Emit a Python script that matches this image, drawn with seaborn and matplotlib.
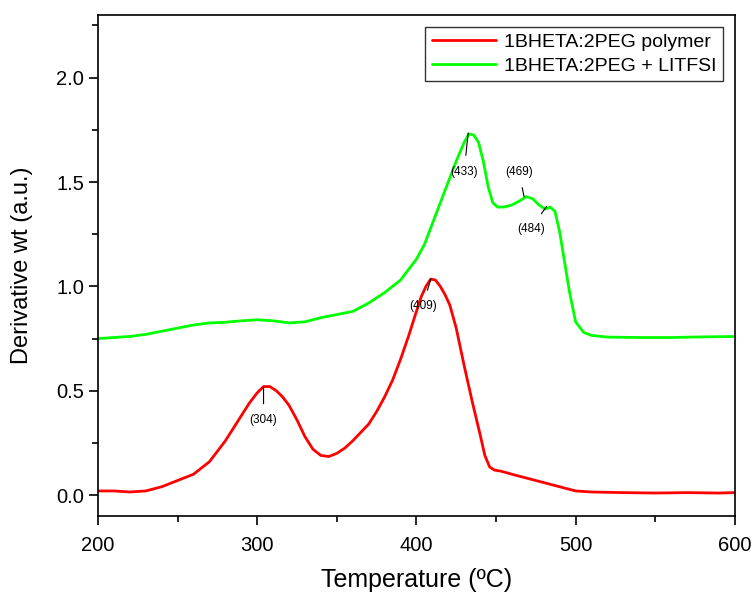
import numpy as np
import pandas as pd
import matplotlib
matplotlib.use("Agg")
import matplotlib.pyplot as plt
from matplotlib.ticker import MultipleLocator, FormatStrFormatter
import seaborn as sns

# DTG curves
temp_polymer = [200, 210, 220, 230, 240, 250, 260, 270, 280, 290, 295, 300, 304, 308, 312,
                316, 320, 325, 330, 335, 340, 345, 350, 355, 360, 365, 370, 375, 380, 385,
                390, 395, 400, 403, 406, 409, 412, 415, 418, 421, 425, 430, 435, 440, 443,
                446, 449, 453, 460, 470, 480, 490, 500, 510, 530, 550, 570, 590, 600]
dtg_polymer = [0.02, 0.02, 0.015, 0.02, 0.04, 0.07, 0.10, 0.16, 0.26, 0.38, 0.44, 0.49, 0.52, 0.52, 0.50,
               0.47, 0.43, 0.36, 0.28, 0.22, 0.19, 0.185, 0.20, 0.225, 0.26, 0.30, 0.34, 0.40, 0.47, 0.55,
               0.65, 0.76, 0.88, 0.95, 1.00, 1.035, 1.03, 1.00, 0.96, 0.91, 0.80, 0.62, 0.45, 0.29, 0.19,
               0.135, 0.12, 0.115, 0.10, 0.08, 0.06, 0.04, 0.02, 0.015, 0.012, 0.01, 0.012, 0.01, 0.012]

temp_litfsi = [200, 210, 220, 230, 240, 250, 260, 270, 280, 290, 300, 310, 320, 330, 340,
               350, 360, 370, 380, 390, 395, 400, 405, 410, 415, 420, 425, 430, 433, 436,
               439, 442, 445, 448, 451, 455, 460, 465, 469, 473, 477, 481, 484, 487, 490,
               493, 496, 500, 505, 510, 520, 540, 560, 580, 600]
dtg_litfsi = [0.75, 0.755, 0.76, 0.77, 0.785, 0.80, 0.815, 0.825, 0.828, 0.835, 0.84, 0.835, 0.825, 0.83, 0.85,
              0.865, 0.88, 0.92, 0.97, 1.03, 1.08, 1.13, 1.20, 1.30, 1.40, 1.50, 1.60, 1.69, 1.73, 1.725,
              1.69, 1.60, 1.48, 1.40, 1.38, 1.38, 1.39, 1.41, 1.43, 1.42, 1.39, 1.37, 1.38, 1.36, 1.26,
              1.12, 0.98, 0.83, 0.78, 0.765, 0.757, 0.755, 0.755, 0.758, 0.76]

label_polymer = "1BHETA:2PEG polymer"
label_litfsi = "1BHETA:2PEG + LITFSI"

# peak labels: text, peak point, text position
peak_text = ["(304)", "(409)", "(433)", "(469)", "(484)"]
peak_xy = [(304, 0.52), (409, 1.035), (432.5, 1.735), (467.6, 1.43), (481.7, 1.383)]
label_xy = [(304, 0.36), (404, 0.905), (430, 1.55), (464.4, 1.55), (472, 1.276)]

sns.set_style("ticks")
plt.rcParams['font.family'] = ['Liberation Sans', 'DejaVu Sans']
plt.rcParams['text.color'] = 'black'
plt.rcParams['axes.labelcolor'] = 'black'
plt.rcParams['xtick.color'] = 'black'
plt.rcParams['ytick.color'] = 'black'
plt.rcParams['axes.edgecolor'] = 'black'

df = pd.concat([
    pd.DataFrame({"T": temp_polymer, "dtg": dtg_polymer, "sample": label_polymer}),
    pd.DataFrame({"T": temp_litfsi, "dtg": dtg_litfsi, "sample": label_litfsi}),
])

fig = plt.figure(figsize=(7.56, 6.0), dpi=100)
ax = fig.add_axes([0.1296, 0.14, 0.8424, 0.835])

sns.lineplot(data=df, x="T", y="dtg", hue="sample", sort=False,
             palette={label_polymer: "#ff0000", label_litfsi: "#00ff00"},
             linewidth=2.0, ax=ax)

for txt, (px, py), (tx, ty) in zip(peak_text, peak_xy, label_xy):
    ax.annotate(txt, xy=(px, py), xytext=(tx, ty), fontsize=8.5, ha="center", va="center",
                arrowprops=dict(arrowstyle="-", color="black", lw=0.8, shrinkA=5, shrinkB=0))

ax.set_xlim(200, 600)
ax.set_ylim(-0.1, 2.3)
ax.xaxis.set_major_locator(MultipleLocator(100))
ax.xaxis.set_minor_locator(MultipleLocator(50))
ax.yaxis.set_major_locator(MultipleLocator(0.5))
ax.yaxis.set_minor_locator(MultipleLocator(0.25))
ax.yaxis.set_major_formatter(FormatStrFormatter('%.1f'))
ax.tick_params(which="both", direction="out", width=1.2, labelsize=14.5)
ax.tick_params(which="major", length=6.5)
ax.tick_params(which="minor", length=4)
ax.tick_params(axis="x", which="major", pad=8)
for s in ax.spines.values():
    s.set_linewidth(1.2)
    s.set_visible(True)

ax.set_xlabel("Temperature (ºC)", fontsize=18)
ax.set_ylabel("Derivative wt (a.u.)", fontsize=17)
ax.xaxis.set_label_coords(0.5, -0.104)
ax.yaxis.set_label_coords(-0.102, 0.5)

leg = ax.legend(loc="upper right", fontsize=14, frameon=True, fancybox=False,
                edgecolor="black", handlelength=3.3, handletextpad=0.4, borderpad=0.35,
                labelspacing=0.3, borderaxespad=0.6, title=None)
leg.get_frame().set_linewidth(1.0)

fig.savefig("out.png", dpi=100)
